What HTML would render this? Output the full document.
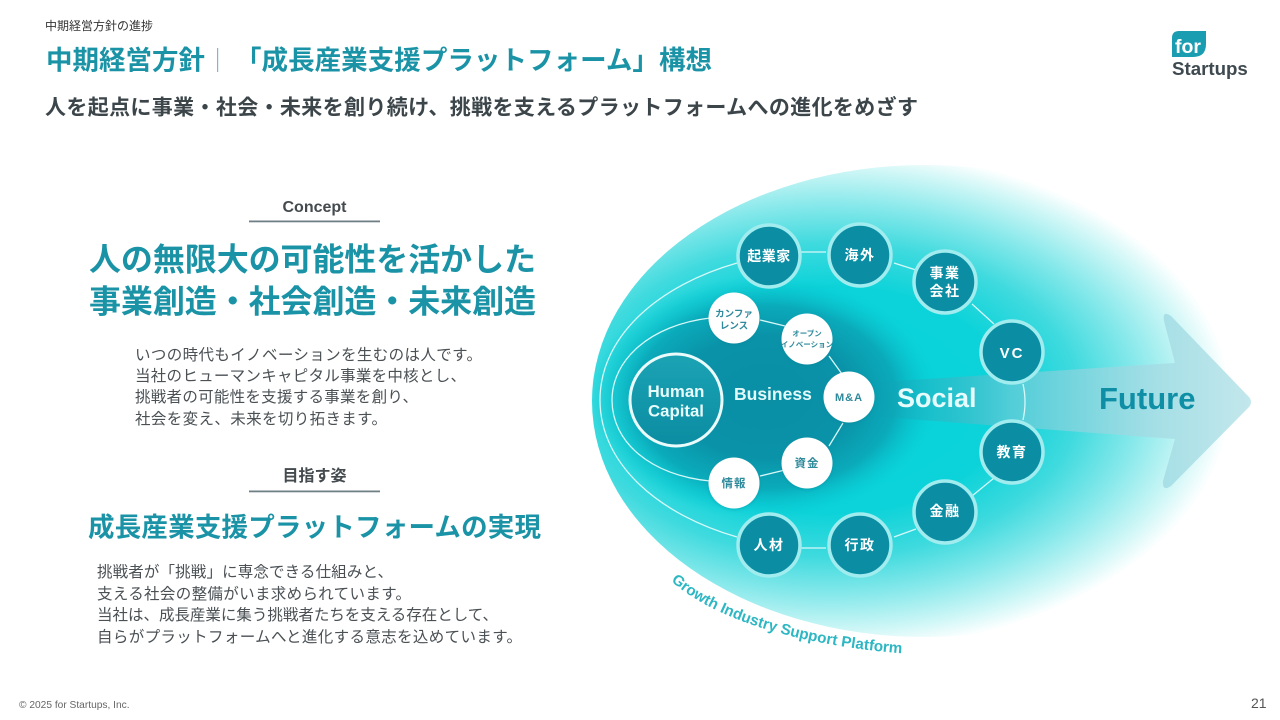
<!DOCTYPE html>
<html lang="ja">
<head>
<meta charset="utf-8">
<style>
html,body{margin:0;padding:0;background:#fff;width:1280px;height:720px;overflow:hidden}
svg{display:block}
text{font-family:"Liberation Sans","Noto Sans CJK JP",sans-serif}
.ja{font-family:"Noto Sans CJK JP","Liberation Sans",sans-serif}
.b{font-weight:700}
.body{font-size:15.5px;fill:#4a5054;font-family:"Noto Sans CJK JP",sans-serif;font-weight:400}
.t{fill:#1b93a6;font-weight:700;font-family:"Noto Sans CJK JP",sans-serif}
.n{fill:#fff;font-weight:700;font-size:14px;text-anchor:middle;font-family:"Noto Sans CJK JP",sans-serif;letter-spacing:1.5px}
.w{fill:#2f8a9c;font-weight:700;font-size:11.5px;text-anchor:middle;font-family:"Noto Sans CJK JP",sans-serif;letter-spacing:1px}
.dk{fill:#0b8ea3;stroke:#a0ecee;stroke-width:3.5}
.wh{fill:#fff}
</style>
</head>
<body>
<svg width="1280" height="720" viewBox="0 0 1280 720" xmlns="http://www.w3.org/2000/svg">
<defs>
<radialGradient id="bg2" gradientUnits="userSpaceOnUse" cx="0" cy="0" r="1" gradientTransform="translate(830 400) scale(400 252)">
<stop offset="0" stop-color="#05d4da"/>
<stop offset=".45" stop-color="#0cd3d9"/>
<stop offset=".62" stop-color="#3edade"/>
<stop offset=".78" stop-color="#8ae9eb"/>
<stop offset=".92" stop-color="#d2f7f7"/>
<stop offset="1" stop-color="#ffffff"/>
</radialGradient>
<radialGradient id="inner" gradientUnits="userSpaceOnUse" cx="0" cy="0" r="1" gradientTransform="translate(765 397) scale(175 122)">
<stop offset="0" stop-color="#0a8fa5"/>
<stop offset=".5" stop-color="#0a92a8"/>
<stop offset=".75" stop-color="#0aa6b7" stop-opacity=".9"/>
<stop offset=".9" stop-color="#09c0cb" stop-opacity=".45"/>
<stop offset="1" stop-color="#08d0d6" stop-opacity="0"/>
</radialGradient>
<linearGradient id="arrow" gradientUnits="userSpaceOnUse" x1="880" y1="0" x2="1250" y2="0">
<stop offset="0" stop-color="#0a9fb2" stop-opacity=".3"/>
<stop offset=".35" stop-color="#58cdd8" stop-opacity=".9"/>
<stop offset=".75" stop-color="#a6dfe6"/>
<stop offset="1" stop-color="#c2e7ec"/>
</linearGradient>
<linearGradient id="hc" x1="0" y1="0" x2="0" y2="1">
<stop offset="0" stop-color="#1ba3b4"/>
<stop offset="1" stop-color="#0b8ca2"/>
</linearGradient>
<path id="curve" d="M671 581 C 715 620, 800 646, 910 654"/>
<filter id="sh" x="-20%" y="-20%" width="140%" height="140%"><feDropShadow dx="0" dy="1" stdDeviation="1.5" flood-color="#0a7f90" flood-opacity=".35"/></filter>
</defs>

<!-- header -->
<text x="45" y="30" class="ja" font-size="12" fill="#333" textLength="108">中期経営方針の進捗</text>
<text x="46" y="69.500" class="t" font-size="26.500" textLength="159">中期経営方針</text>
<rect x="217" y="48" width="1.200" height="24" fill="#7fb9c4"/>
<text x="235" y="69.500" class="t" font-size="26.500" textLength="477">「成長産業支援プラットフォーム」構想</text>
<text x="45" y="114.500" class="ja b" font-size="21" fill="#3c464a" textLength="873">人を起点に事業・社会・未来を創り続け、挑戦を支えるプラットフォームへの進化をめざす</text>

<!-- logo -->
<path d="M1179 31 H1206 V44 Q1206 57 1193 57 H1172 V38 Q1172 31 1179 31Z" fill="#1a9db1"/>
<text x="1175" y="53" font-size="19.500" font-weight="700" fill="#fff">for</text>
<text x="1172" y="75" font-size="18.700" font-weight="700" fill="#3f4a50">Startups</text>

<!-- left column -->
<text x="314.500" y="212" font-size="16" font-weight="700" fill="#444a4e" text-anchor="middle">Concept</text>
<rect x="249" y="220.500" width="131" height="1.800" fill="#6f7f86"/>
<text x="89" y="270.500" class="t" font-size="32" textLength="447">人の無限大の可能性を活かした</text>
<text x="89" y="312.500" class="t" font-size="32" textLength="447">事業創造・社会創造・未来創造</text>
<text x="135" y="360" class="body" textLength="347">いつの時代もイノベーションを生むのは人です。</text>
<text x="135" y="381" class="body" textLength="331">当社のヒューマンキャピタル事業を中核とし、</text>
<text x="135" y="402" class="body" textLength="283">挑戦者の可能性を支援する事業を創り、</text>
<text x="135" y="424" class="body" textLength="252">社会を変え、未来を切り拓きます。</text>

<text x="314.500" y="481" class="ja b" font-size="16" fill="#444a4e" text-anchor="middle">目指す姿</text>
<rect x="249" y="490.500" width="131" height="1.800" fill="#6f7f86"/>
<text x="88" y="536.500" class="t" font-size="26.500" textLength="453">成長産業支援プラットフォームの実現</text>
<text x="97" y="577" class="body" textLength="296">挑戦者が「挑戦」に専念できる仕組みと、</text>
<text x="97" y="599" class="body" textLength="314">支える社会の整備がいま求められています。</text>
<text x="97" y="620" class="body" textLength="401">当社は、成長産業に集う挑戦者たちを支える存在として、</text>
<text x="97" y="642" class="body" textLength="425">自らがプラットフォームへと進化する意志を込めています。</text>

<!-- footer -->
<text x="19" y="708" font-size="10.200" fill="#666">© 2025 for Startups, Inc.</text>
<text x="1251" y="708" font-size="14" fill="#555">21</text>

<!-- diagram background -->
<ellipse cx="925" cy="401" rx="333" ry="236" fill="url(#bg2)"/>
<ellipse cx="765" cy="397" rx="175" ry="122" fill="url(#inner)"/>

<!-- arrow -->
<path d="M880 382 L1175 363 L1164 321 Q1162 310 1171 316 L1249 397 Q1253 402 1249 407 L1171 486 Q1162 492 1163 481 L1175 439 L880 417Z" fill="url(#arrow)"/>

<!-- lines -->
<path d="M737 263 C 660 285, 600 335, 600 400 C 600 465, 660 515, 737 537" fill="none" stroke="#d6f8f8" stroke-width="1.300"/>
<path d="M710 318 C 650 325, 612 360, 612 400 C 612 442, 650 475, 710 481" fill="none" stroke="#d6f8f8" stroke-width="1.300"/>
<path d="M760 320 L785 326 M829 356 L842 374 M843 423 L829 446 M785 470 L760 476" fill="none" stroke="#d6f8f8" stroke-width="1.300"/>
<path d="M800 252 H826 M894 263 L916 270 M972 304 L994 324 M994 478 L972 496 M894 537 L916 529 M800 548 H826" fill="none" stroke="#d6f8f8" stroke-width="1.300"/>
<path d="M1023 384 Q1027 402 1023 420" fill="none" stroke="#d6f8f8" stroke-width="1.300"/>

<!-- core -->
<circle cx="676" cy="400" r="46" fill="url(#hc)" stroke="#e9fbfb" stroke-width="3"/>
<text x="676" y="397" font-size="16.800" font-weight="700" fill="#e8fbfb" text-anchor="middle">Human</text>
<text x="676" y="416.500" font-size="16.800" font-weight="700" fill="#e8fbfb" text-anchor="middle">Capital</text>
<text x="734" y="400" font-size="17.500" font-weight="700" fill="#e2f9f9">Business</text>
<text x="897" y="407" font-size="27" font-weight="700" fill="#e6fbfb">Social</text>
<text x="1099" y="409" font-size="31" font-weight="700" fill="#0f8fa6">Future</text>

<!-- white nodes -->
<g filter="url(#sh)">
<circle class="wh" cx="734" cy="318" r="25.500"/>
<circle class="wh" cx="807" cy="339" r="25.500"/>
<circle class="wh" cx="849" cy="397" r="25.500"/>
<circle class="wh" cx="807" cy="463" r="25.500"/>
<circle class="wh" cx="734" cy="483" r="25.500"/>
</g>
<text class="w" x="734" y="317" style="font-size:9.500px;letter-spacing:0">カンファ</text>
<text class="w" x="734" y="329" style="font-size:9.500px;letter-spacing:0">レンス</text>
<text class="w" x="807" y="336" style="font-size:7.500px;letter-spacing:0">オープン</text>
<text class="w" x="807" y="347" style="font-size:7.500px;letter-spacing:0">イノベーション</text>
<text x="849" y="401" font-size="11" font-weight="700" fill="#2f8a9c" text-anchor="middle" letter-spacing="1">M&amp;A</text>
<text class="w" x="807" y="467">資金</text>
<text class="w" x="734" y="487">情報</text>

<!-- dark nodes -->
<g>
<circle class="dk" cx="769" cy="256" r="31"/>
<circle class="dk" cx="860" cy="255" r="31"/>
<circle class="dk" cx="945" cy="282" r="31"/>
<circle class="dk" cx="1012" cy="352" r="31"/>
<circle class="dk" cx="1012" cy="452" r="31"/>
<circle class="dk" cx="945" cy="512" r="31"/>
<circle class="dk" cx="860" cy="545" r="31"/>
<circle class="dk" cx="769" cy="545" r="31"/>
</g>
<text class="n" x="769" y="261" style="letter-spacing:.5px">起業家</text>
<text class="n" x="860" y="260">海外</text>
<text class="n" x="945" y="278">事業</text>
<text class="n" x="945" y="296">会社</text>
<text x="1012" y="358" font-size="15" font-weight="700" fill="#fff" text-anchor="middle" letter-spacing="2">VC</text>
<text class="n" x="1012" y="457">教育</text>
<text class="n" x="945" y="516">金融</text>
<text class="n" x="860" y="550">行政</text>
<text class="n" x="769" y="550">人材</text>

<!-- curved label -->
<text font-size="15.200" font-weight="700" fill="#2cb7c3"><textPath href="#curve">Growth Industry Support Platform</textPath></text>
</svg>
</body>
</html>
